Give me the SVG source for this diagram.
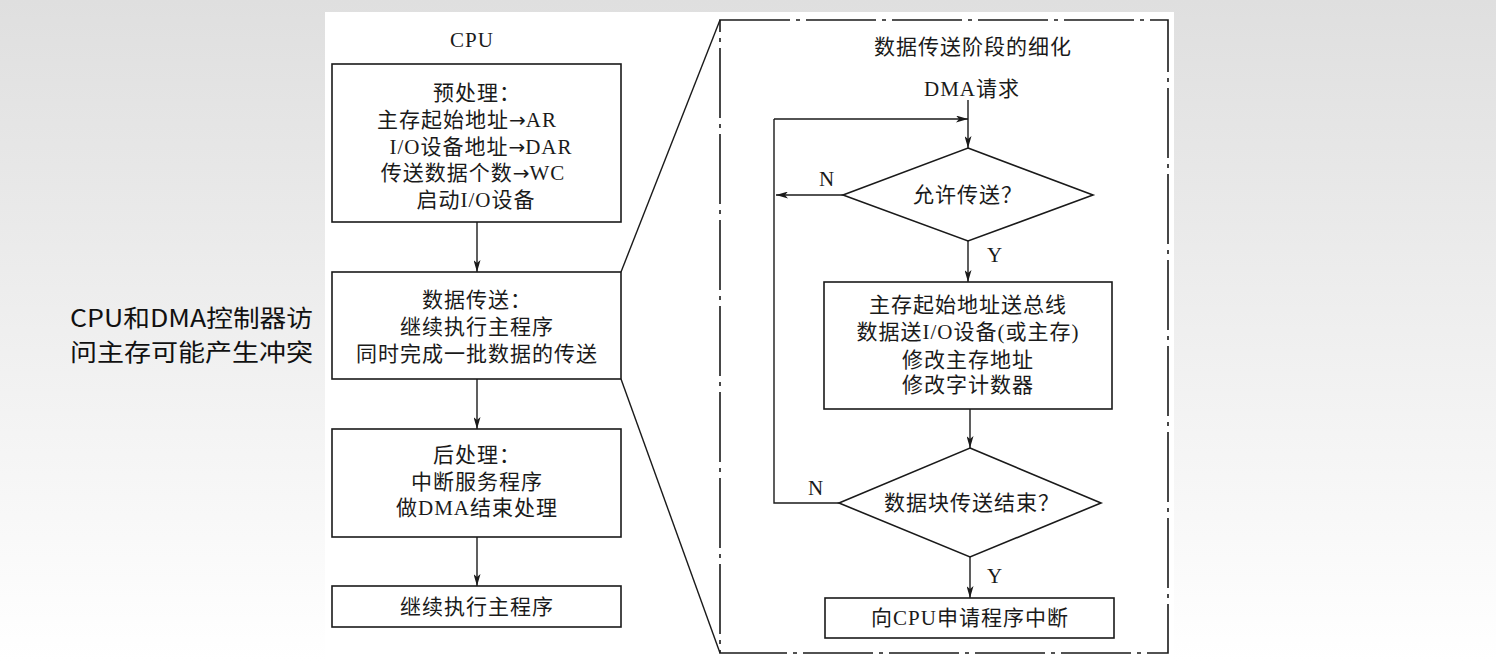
<svg xmlns="http://www.w3.org/2000/svg" width="1496" height="661" viewBox="0 0 1496 661">
<defs>
<linearGradient id="bg" x1="0" y1="0" x2="0" y2="1">
<stop offset="0" stop-color="#dfdfdf"/>
<stop offset="1" stop-color="#ffffff"/>
</linearGradient>
<marker id="ah" markerWidth="12" markerHeight="7" refX="12" refY="3.5" orient="auto" markerUnits="userSpaceOnUse">
<path d="M0,0 L12,3.5 L0,7 L3,3.5 Z" fill="#1a1a1a"/>
</marker>
<style>
.t{font-family:"Liberation Serif","Noto Sans CJK SC",serif;font-size:21px;fill:#1a1a1a;text-anchor:middle;letter-spacing:1px}
.s{font-family:"Noto Sans CJK SC","Liberation Sans",sans-serif;font-size:24px;fill:#111}
.ar{font-family:"DejaVu Sans",sans-serif;font-size:20px;letter-spacing:0}
.b{fill:none;stroke:#1a1a1a;stroke-width:1.6}
.l{fill:none;stroke:#1a1a1a;stroke-width:1.4}
.a{fill:none;stroke:#1a1a1a;stroke-width:1.4;marker-end:url(#ah)}
.dd{fill:none;stroke:#1a1a1a;stroke-width:1.6;stroke-dasharray:70 6 4 6}
</style>
</defs>
<rect x="0" y="0" width="1496" height="661" fill="url(#bg)"/>
<rect x="325" y="12" width="849" height="649" fill="#ffffff"/>

<g id="side-note">
<text class="s" x="70" y="327" textLength="243" lengthAdjust="spacingAndGlyphs">CPU和DMA控制器访</text>
<text class="s" x="70" y="361" textLength="243" lengthAdjust="spacingAndGlyphs">问主存可能产生冲突</text>
</g>

<g id="cpu-title"><text class="t" x="472" y="47">CPU</text></g>

<g id="pre">
<rect class="b" x="332" y="64" width="289" height="158"/>
<text class="t" x="477" y="100">预处理：</text>
<text class="t" x="467" y="127">主存起始地址<tspan class="ar">→</tspan>AR</text>
<text class="t" x="481" y="154">I/O设备地址<tspan class="ar">→</tspan>DAR</text>
<text class="t" x="473" y="180">传送数据个数<tspan class="ar">→</tspan>WC</text>
<text class="t" x="476" y="207">启动I/O设备</text>
</g>

<g id="transfer">
<rect class="b" x="332" y="272" width="289" height="107"/>
<text class="t" x="477" y="307">数据传送：</text>
<text class="t" x="477" y="334">继续执行主程序</text>
<text class="t" x="477" y="361">同时完成一批数据的传送</text>
</g>

<g id="post">
<rect class="b" x="332" y="429" width="289" height="108"/>
<text class="t" x="477" y="462">后处理：</text>
<text class="t" x="477" y="489">中断服务程序</text>
<text class="t" x="477" y="515">做DMA结束处理</text>
</g>

<g id="continue">
<rect class="b" x="332" y="586" width="289" height="41"/>
<text class="t" x="477" y="614">继续执行主程序</text>
</g>

<g id="detail-frame">
<rect class="dd" x="720" y="20" width="448" height="633"/>
<text class="t" x="973" y="54">数据传送阶段的细化</text>
</g>

<g id="dma-req"><text class="t" x="972" y="96">DMA请求</text></g>

<g id="allow">
<polygon class="b" points="968,148 1093,195 968,241 843,195"/>
<text class="t" x="968" y="202">允许传送？</text>
</g>

<g id="work">
<rect class="b" x="824" y="282" width="288" height="127"/>
<text class="t" x="968" y="312">主存起始地址送总线</text>
<text class="t" x="968" y="339">数据送I/O设备(或主存)</text>
<text class="t" x="968" y="367">修改主存地址</text>
<text class="t" x="968" y="392">修改字计数器</text>
</g>

<g id="done">
<polygon class="b" points="970,448 1101,503 970,557 839,503"/>
<text class="t" x="972" y="510">数据块传送结束？</text>
</g>

<g id="irq">
<rect class="b" x="825" y="598" width="289" height="40"/>
<text class="t" x="970" y="625">向CPU申请程序中断</text>
</g>

<g id="connectors">
<line class="a" x1="477" y1="222" x2="477" y2="272"/>
<line class="a" x1="477" y1="379" x2="477" y2="429"/>
<line class="a" x1="477" y1="537" x2="477" y2="586"/>
<line class="l" x1="621" y1="272" x2="720" y2="20"/>
<line class="l" x1="621" y1="379" x2="720" y2="653"/>
<line class="a" x1="968" y1="100" x2="968" y2="148"/>
<line class="a" x1="774" y1="119" x2="968" y2="119"/>
<line class="a" x1="843" y1="195" x2="776" y2="195"/>
<polyline class="l" points="839,503 774,503 774,119"/>
<line class="a" x1="968" y1="241" x2="968" y2="282"/>
<line class="a" x1="970" y1="409" x2="970" y2="448"/>
<line class="a" x1="970" y1="557" x2="970" y2="598"/>
<text class="t" x="827" y="186">N</text>
<text class="t" x="995" y="262">Y</text>
<text class="t" x="816" y="495">N</text>
<text class="t" x="995" y="583">Y</text>
</g>
</svg>
